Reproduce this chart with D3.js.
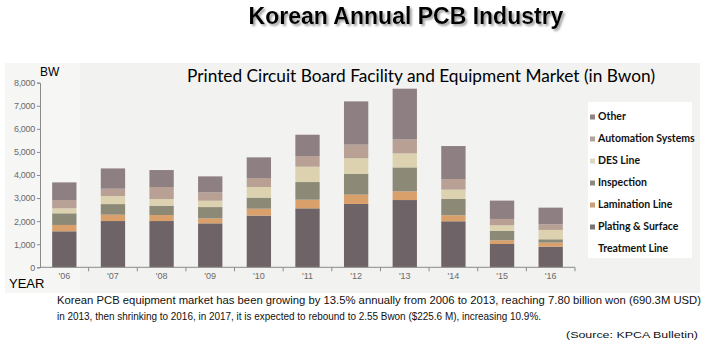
<!DOCTYPE html>
<html><head><meta charset="utf-8">
<script src="https://cdn.jsdelivr.net/npm/d3@7"></script>
<style>
html,body{margin:0;padding:0;background:#fff;}
svg{display:block;}
</style></head>
<body>
<svg id="chart" width="710" height="359"></svg>
<script>
const years = ["'06","'07","'08","'09","'10","'11","'12","'13","'14","'15","'16"];
const plating    = [1560, 2005, 2005, 1905, 2240, 2555, 2745, 2915, 1995, 1010, 895];
const lamination = [275, 275, 260, 215, 300, 375, 405, 375, 260, 160, 175];
const inspection = [505, 460, 405, 490, 480, 765, 895, 1040, 705, 405, 145];
const desLine    = [215, 345, 290, 275, 460, 665, 680, 605, 405, 245, 405];
const automation = [360, 320, 520, 360, 390, 460, 590, 605, 460, 275, 245];
const other      = [765, 880, 735, 695, 895, 925, 1875, 2200, 1430, 795, 720];
const seriesNames = ["Plating & Surface Treatment Line","Lamination Line","Inspection","DES Line","Automation Systems","Other"];
const seriesColors = ["#6e6468","#d9a06c","#8c8a76","#dcd2b0","#b8a095","#8e7f82"];
const yTicks = [0,1000,2000,3000,4000,5000,6000,7000,8000];
const legendLabels = ["Other","Automation Systems","DES Line","Inspection","Lamination Line","Plating & Surface","Treatment Line"];
const legendColors = ["#8e8486","#b0a49c","#ddd6c4","#8c8a7e","#c9a07a","#7a7476",null];

const svg = d3.select("#chart");
const defs = svg.append("defs");
const f = defs.append("filter").attr("id","shadow").attr("x","-5%").attr("y","-20%").attr("width","115%").attr("height","160%");
f.append("feDropShadow").attr("dx",2).attr("dy",2).attr("stdDeviation",0.8).attr("flood-color","#888").attr("flood-opacity",0.8);

const keys = ["plating","lamination","inspection","desLine","automation","other"];
const rows = years.map((y,i)=>({year:y, plating:plating[i], lamination:lamination[i], inspection:inspection[i], desLine:desLine[i], automation:automation[i], other:other[i]}));

// scanned background
svg.append("rect").attr("x",5).attr("y",63).attr("width",695).attr("height",230).attr("fill","#f2f2f0");
svg.append("rect").attr("x",5).attr("y",63).attr("width",75).attr("height",230).attr("fill","#f6f6f5");

const x = d3.scaleBand().domain(years).range([40,575]).paddingInner(0.5).paddingOuter(0.25);
const y = d3.scaleLinear().domain([0,8000]).range([267.3,82.7]);

const stack = d3.stack().keys(keys)(rows);
svg.append("g").selectAll("g").data(stack).join("g")
  .attr("fill",(d,i)=>seriesColors[i])
  .selectAll("rect").data(d=>d).join("rect")
  .attr("x",d=>x(d.data.year))
  .attr("width",x.bandwidth())
  .attr("y",d=>y(d[1]))
  .attr("height",d=>y(d[0])-y(d[1]));

// y axis
const yAxis = d3.axisLeft(y).tickValues(yTicks).tickFormat(d3.format(",")).tickSize(3).tickPadding(2);
const gy = svg.append("g").attr("transform","translate(40,0)").call(yAxis);
gy.select(".domain").attr("stroke","#8a8a8a");
gy.selectAll(".tick line").attr("stroke","#8a8a8a");
gy.selectAll("text").attr("fill","#6a6a6a").style("font-family","'Liberation Sans Narrow','Liberation Sans',sans-serif").style("font-size","9px").style("letter-spacing","-0.3px");

// x axis
const gx = svg.append("g").attr("transform","translate(0,267.3)");
gx.append("line").attr("x1",40).attr("x2",575).attr("y1",0).attr("y2",0).attr("stroke","#8a8a8a");
const bounds = years.map(d=> x(d) + x.bandwidth() + x.step()*x.paddingInner()/2);
gx.selectAll("line.tk").data(bounds).join("line").attr("class","tk")
  .attr("x1",d=>d).attr("x2",d=>d).attr("y1",0).attr("y2",4).attr("stroke","#8a8a8a");
gx.selectAll("text").data(years).join("text")
  .attr("x",d=>x(d)+x.bandwidth()/2).attr("y",12)
  .attr("text-anchor","middle").attr("fill","#6a6a6a")
  .style("font-family","'Liberation Sans Narrow','Liberation Sans',sans-serif").style("font-size","9px")
  .text(d=>d);

// titles
svg.append("text").attr("x",406).attr("y",24).attr("text-anchor","middle")
  .attr("filter","url(#shadow)")
  .attr("fill","#000").style("font-family","'Liberation Sans',Arial,sans-serif").style("font-weight","bold").style("font-size","23px")
  .text("Korean Annual PCB Industry");

svg.append("text").attr("x",187).attr("y",82).attr("textLength",468).attr("lengthAdjust","spacingAndGlyphs")
  .attr("fill","#000").style("font-family","Lato,'Open Sans',sans-serif").style("font-size","17px")
  .text("Printed Circuit Board Facility and Equipment Market (in Bwon)");

svg.append("text").attr("x",40).attr("y",76).attr("fill","#000")
  .style("font-family","'Liberation Sans',Arial,sans-serif").style("font-size","12px").text("BW");
svg.append("text").attr("x",9).attr("y",288).attr("fill","#000")
  .style("font-family","'Liberation Sans',Arial,sans-serif").style("font-size","13px").text("YEAR");

// legend
const lg = svg.append("g");
lg.append("rect").attr("x",588).attr("y",102).attr("width",104).attr("height",156).attr("fill","#ffffff");
const ly = [116.5,138.5,160.5,182.5,204.5,226.5,248.5];
legendLabels.forEach((t,i)=>{
  if(legendColors[i]) lg.append("rect").attr("x",590).attr("y",ly[i]-2).attr("width",5).attr("height",5).attr("fill",legendColors[i]);
  lg.append("text").attr("x",598).attr("y",ly[i]+3.5).attr("fill","#111")
    .style("font-family","Lato,'Open Sans',sans-serif").style("font-weight","bold").style("font-size","10.5px").text(t);
});

// footnote
const fnFont = "'Liberation Sans Narrow','Liberation Sans',sans-serif";
svg.append("text").attr("x",57).attr("y",304).attr("textLength",644).attr("lengthAdjust","spacingAndGlyphs")
  .attr("fill","#111").style("font-family",fnFont).style("font-size","11px")
  .text("Korean PCB equipment  market  has been growing by 13.5% annually from  2006 to 2013, reaching 7.80 billion won (690.3M USD)");
svg.append("text").attr("x",57).attr("y",320).attr("textLength",484).attr("lengthAdjust","spacingAndGlyphs")
  .attr("fill","#111").style("font-family",fnFont).style("font-size","11px")
  .text("in 2013, then shrinking to 2016, in 2017, it is expected to rebound to 2.55 Bwon ($225.6 M), increasing 10.9%.");
svg.append("text").attr("x",566).attr("y",338).attr("textLength",132).attr("lengthAdjust","spacingAndGlyphs")
  .attr("fill","#111").style("font-family",fnFont).style("font-size","9.5px")
  .text("(Source: KPCA Bulletin)");
</script>
</body></html>
